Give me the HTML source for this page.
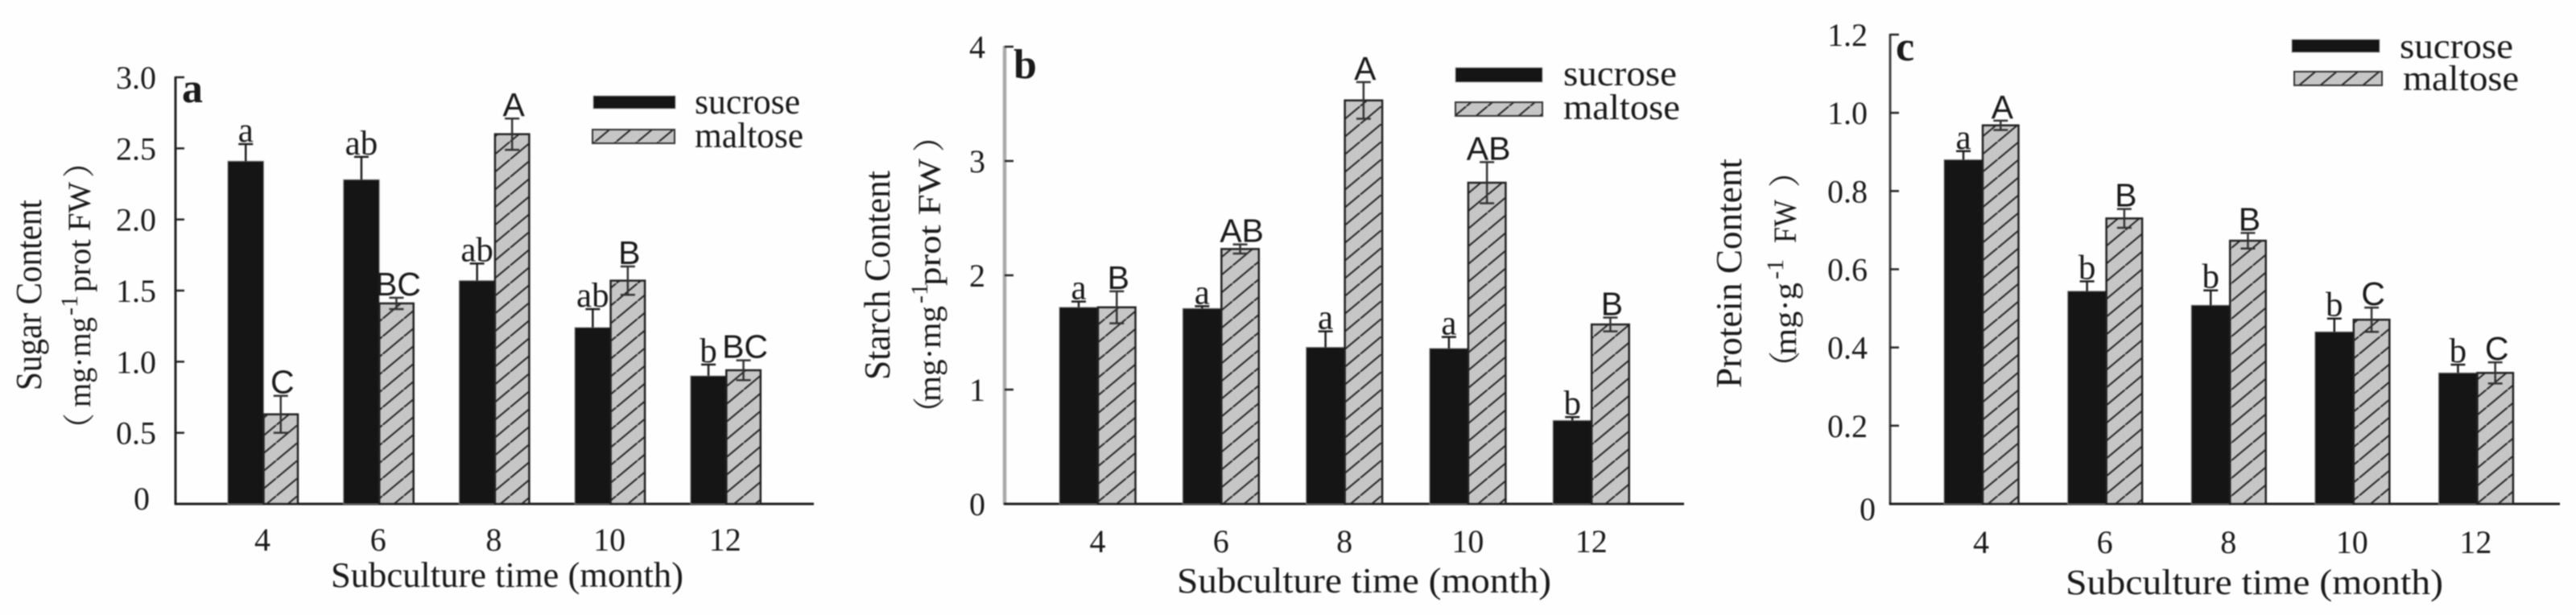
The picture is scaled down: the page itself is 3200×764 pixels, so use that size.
<!DOCTYPE html>
<html lang="en">
<head>
<meta charset="utf-8">
<title>Sugar, starch and protein content by subculture time</title>
<style>
html,body{margin:0;padding:0;background:#fefefe;width:3200px;height:764px;overflow:hidden}
svg{display:block;filter:blur(0.7px)}
text{font-family:"Liberation Serif","Noto Serif CJK SC",serif;fill:#1a1a1a}
.sans{font-family:"Liberation Sans",sans-serif}
</style>
</head>
<body>
<svg id="chart" xmlns="http://www.w3.org/2000/svg" width="3200" height="764" viewBox="0 0 3200 764">
<defs>
<pattern id="hatch" patternUnits="userSpaceOnUse" width="26.4" height="22">
<rect width="26.4" height="22" fill="#c6c6c6"/>
<path d="M-2 23.7 L28.4 -1.7" stroke="#222" stroke-width="2" fill="none"/>
</pattern>
</defs>
</svg>
<script>
// Shared data
const categories = ['4', '6', '8', '10', '12'];

// Panel a: sugar content
const aTickValues = [0, 0.5, 1, 1.5, 2, 2.5, 3];
const aTickLabels = ['0', '0.5', '1.0', '1.5', '2.0', '2.5', '3.0'];
const aSucrose = [2.41, 2.28, 1.57, 1.24, 0.90];
const aSucroseErr = [0.12, 0.16, 0.12, 0.13, 0.08];
const aSucroseLetters = ['a', 'ab', 'ab', 'ab', 'b'];
const aMaltose = [0.63, 1.41, 2.60, 1.57, 0.94];
const aMaltoseErr = [0.13, 0.04, 0.11, 0.10, 0.07];
const aMaltoseLetters = ['C', 'BC', 'A', 'B', 'BC'];

// Panel b: starch content
const bTickValues = [0, 1, 2, 3, 4];
const bTickLabels = ['0', '1', '2', '3', '4'];
const bSucrose = [1.72, 1.71, 1.37, 1.36, 0.73];
const bSucroseErr = [0.05, 0.02, 0.14, 0.10, 0.03];
const bSucroseLetters = ['a', 'a', 'a', 'a', 'b'];
const bMaltose = [1.72, 2.23, 3.53, 2.81, 1.57];
const bMaltoseErr = [0.14, 0.04, 0.16, 0.18, 0.06];
const bMaltoseLetters = ['B', 'AB', 'A', 'AB', 'B'];

// Panel c: protein content
const cTickValues = [0, 0.2, 0.4, 0.6, 0.8, 1, 1.2];
const cTickLabels = ['0', '0.2', '0.4', '0.6', '0.8', '1.0', '1.2'];
const cSucrose = [0.88, 0.544, 0.508, 0.44, 0.335];
const cSucroseErr = [0.022, 0.025, 0.038, 0.034, 0.021];
const cSucroseLetters = ['a', 'b', 'b', 'b', 'b'];
const cMaltose = [0.968, 0.73, 0.673, 0.471, 0.335];
const cMaltoseErr = [0.012, 0.024, 0.02, 0.031, 0.027];
const cMaltoseLetters = ['A', 'B', 'B', 'C', 'C'];

const NS = 'http://www.w3.org/2000/svg';
const root = document.getElementById('chart');

function make(tag, attrs, parent, content) {
  const el = document.createElementNS(NS, tag);
  for (const key in attrs) el.setAttribute(key, attrs[key]);
  if (content !== undefined) el.textContent = content;
  parent.appendChild(el);
  return el;
}

function drawPanel(p) {
  const g = make('g', {}, root);
  
  

  const yOf = v => p.base - (v / p.max) * (p.base - p.top);
  const xOf = i => p.first + i * p.step;

  // Axes
  const yAxis = make('line', {x1: p.axisX, x2: p.axisX, y1: yOf(p.max) - 1, y2: p.base + 1, stroke: p.axisColor, 'stroke-width': p.axisW}, g);
  
  
  const xAxis = make('line', {x1: p.axisX - 1, x2: p.axisEnd, y1: p.base, y2: p.base, stroke: '#1c1c1c', 'stroke-width': 3}, g);
  
  

  // Y ticks and labels
  p.tickValues.forEach((v, i) => {
    if (v !== 0) {
      const tick = make('line', {x1: p.axisX, x2: p.axisX + 11, y1: yOf(v), y2: yOf(v), stroke: '#222', 'stroke-width': 2.5}, g);
      
      
    }
    const isZero = v === 0;
    const label = make('text', {x: isZero ? p.zeroX : p.tickRight, y: yOf(v) + 14 + (isZero ? p.zeroDy : 0), 'text-anchor': 'end', 'font-size': 40}, g, p.tickLabels[i]);
    
    
  });

  // Bars, error bars, significance letters
  categories.forEach((c, i) => {
    const x = xOf(i);
    const s = p.sucrose[i], m = p.maltose[i];
    const sucBar = make('rect', {x: x, y: yOf(s), width: p.sucW, height: p.base - yOf(s), fill: '#151515', stroke: '#8a8a8a', 'stroke-width': 1}, g);
    
    
    const mx = x + p.sucW;
    const malBar = make('rect', {x: mx, y: yOf(m), width: p.malW, height: p.base - yOf(m), fill: 'url(#hatch)', stroke: '#222', 'stroke-width': 2.5}, g);
    
    

    const sc = x + p.sucW / 2, mc = mx + p.malW / 2;
    const sTop = yOf(s + p.sucroseErr[i]), mTop = yOf(m + p.maltoseErr[i]), mBot = yOf(m - p.maltoseErr[i]);

    const sErr = make('path', {d: 'M' + (sc - 9) + ' ' + sTop + 'H' + (sc + 9) + 'M' + sc + ' ' + sTop + 'V' + yOf(s), stroke: '#1c1c1c', 'stroke-width': 2.5, fill: 'none'}, g);
    
    
    const mErr = make('path', {d: 'M' + (mc - 9) + ' ' + mTop + 'H' + (mc + 9) + 'M' + mc + ' ' + mTop + 'V' + mBot + 'M' + (mc - 9) + ' ' + mBot + 'H' + (mc + 9), stroke: '#333', 'stroke-width': 2.5, fill: 'none'}, g);
    
    

    const sLetter = make('text', {x: sc, y: sTop - 3, 'text-anchor': 'middle', 'font-size': 43}, g, p.sucroseLetters[i]);
    
    
    const mLetter = make('text', {x: mc + 2, y: mTop - 3, 'text-anchor': 'middle', 'font-size': 41, class: 'sans'}, g, p.maltoseLetters[i]);
    
    

    const xLabel = make('text', {x: x + p.labelOffset, y: p.xLabelY, 'text-anchor': 'middle', 'font-size': 40}, g, c);
    
    
  });

  // Panel letter
  const panelLetter = make('text', {x: p.letterX, y: p.letterY, 'font-size': 52, 'font-weight': 'bold', fill: '#111'}, g, p.id);
  
  

  // Axis titles
  const xTitle = make('text', {x: p.xTitleX, y: p.xTitleY, 'font-size': 44, textLength: p.xTitleW, lengthAdjust: 'spacingAndGlyphs'}, g, 'Subculture time (month)');
  
  

  const yTitle = make('text', {transform: 'translate(' + p.yTitle1X + ' ' + p.yTitle1Y + ') rotate(-90)', 'font-size': 46, textLength: p.yTitle1W, lengthAdjust: 'spacingAndGlyphs'}, g, p.yTitle1);
  
  

  // Unit line: each run is placed on its own so it can be fitted separately
  const yUnit = make('g', {}, g);
  
  
  p.unitRuns.forEach(run => {
    const attrs = {transform: 'translate(' + p.unitX + ' ' + run.at + ') rotate(-90)', 'font-size': run.size || 40, y: run.lift || 0};
    if (run.len) {
      attrs.textLength = run.len;
      attrs.lengthAdjust = 'spacingAndGlyphs';
    }
    const piece = make('text', attrs, yUnit, run.text);
    
    
  });

  // Legend
  const legend = make('g', {}, g);
  
  
  const sSwatch = make('rect', {x: p.leg[0], y: p.leg[1], width: p.leg[2], height: p.leg[3], fill: '#151515', stroke: '#aaa', 'stroke-width': 1}, legend);
  
  
  const sText = make('text', {x: p.leg[4], y: p.leg[5], 'font-size': 44, textLength: p.leg[6], lengthAdjust: 'spacingAndGlyphs'}, legend, 'sucrose');
  
  
  const mSwatch = make('rect', {x: p.leg[7], y: p.leg[8], width: p.leg[2], height: p.leg[9], fill: 'url(#hatch)', stroke: '#333', 'stroke-width': 2}, legend);
  
  
  const mText = make('text', {x: p.leg[10], y: p.leg[11], 'font-size': 44, textLength: p.leg[12], lengthAdjust: 'spacingAndGlyphs'}, legend, 'maltose');
  
  
}

drawPanel({
  id: 'a', max: 3, top: 96, base: 626, axisX: 218, axisEnd: 1011, axisW: 3, axisColor: '#222',
  first: 283, step: 143.7, sucW: 44.5, malW: 42.5, labelOffset: 43, xLabelY: 684,
  tickRight: 194, zeroX: 186, zeroDy: -7,
  tickValues: aTickValues, tickLabels: aTickLabels,
  sucrose: aSucrose, sucroseErr: aSucroseErr, sucroseLetters: aSucroseLetters,
  maltose: aMaltose, maltoseErr: aMaltoseErr, maltoseLetters: aMaltoseLetters,
  letterX: 226, letterY: 127,
  xTitleX: 411, xTitleY: 729, xTitleW: 438,
  yTitle1: 'Sugar Content', yTitle1X: 51, yTitle1Y: 485, yTitle1W: 237,
  unitX: 112,
  unitRuns: [
    {text: '（', at: 553},
    {text: 'mg·mg', at: 506, len: 112},
    {text: '-1', at: 392, size: 30, lift: -16},
    {text: 'prot FW', at: 363, len: 137},
    {text: '）', at: 221}
  ],
  leg: [737, 119, 102, 16, 863, 141, 131, 736, 161, 17, 863, 183, 135]
});

drawPanel({
  id: 'b', max: 4, top: 58, base: 626, axisX: 1248, axisEnd: 2092, axisW: 4.5, axisColor: '#aaa',
  first: 1316, step: 153.3, sucW: 48, malW: 46.5, labelOffset: 47.5, xLabelY: 686,
  tickRight: 1224, zeroX: 1224, zeroDy: 0,
  tickValues: bTickValues, tickLabels: bTickLabels,
  sucrose: bSucrose, sucroseErr: bSucroseErr, sucroseLetters: bSucroseLetters,
  maltose: bMaltose, maltoseErr: bMaltoseErr, maltoseLetters: bMaltoseLetters,
  letterX: 1259, letterY: 97,
  xTitleX: 1462, xTitleY: 736, xTitleW: 465,
  yTitle1: 'Starch Content', yTitle1X: 1105, yTitle1Y: 472, yTitle1W: 260,
  unitX: 1168,
  unitRuns: [
    {text: '（', at: 533},
    {text: 'mg·mg', at: 499, len: 119},
    {text: '-1', at: 377, size: 30, lift: -16},
    {text: 'prot FW', at: 355, len: 158},
    {text: '）', at: 189}
  ],
  leg: [1808, 84, 108, 18, 1942, 106, 141, 1808, 127, 17, 1942, 148, 145]
});

drawPanel({
  id: 'c', max: 1.2, top: 43, base: 626, axisX: 2348, axisEnd: 3180, axisW: 3, axisColor: '#444',
  first: 2415, step: 153.6, sucW: 48, malW: 44.5, labelOffset: 46, xLabelY: 687,
  tickRight: 2320, zeroX: 2330, zeroDy: 6,
  tickValues: cTickValues, tickLabels: cTickLabels,
  sucrose: cSucrose, sucroseErr: cSucroseErr, sucroseLetters: cSucroseLetters,
  maltose: cMaltose, maltoseErr: cMaltoseErr, maltoseLetters: cMaltoseLetters,
  letterX: 2355, letterY: 75,
  xTitleX: 2566, xTitleY: 738, xTitleW: 469,
  yTitle1: 'Protein Content', yTitle1X: 2163, yTitle1Y: 482, yTitle1W: 285,
  unitX: 2231,
  unitRuns: [
    {text: '（', at: 476},
    {text: 'mg·g', at: 441, len: 90},
    {text: '-1', at: 347, size: 30, lift: -16},
    {text: 'FW', at: 302, len: 54},
    {text: '）', at: 233}
  ],
  leg: [2847, 49, 109, 16, 2981, 72, 141, 2850, 89, 17, 2985, 112, 144]
});
</script>
</body>
</html>
